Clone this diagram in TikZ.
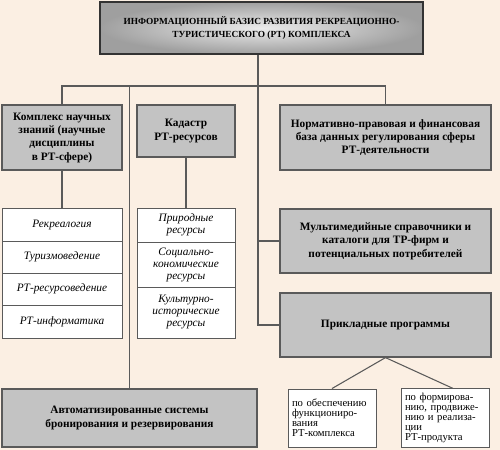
\documentclass[tikz,border=0pt]{standalone}
\usepackage{fontspec}
\setmainfont{Liberation Serif}
\definecolor{cream}{HTML}{FBEFE3}
\definecolor{boxgray}{HTML}{C3C3C3}
\definecolor{linegray}{HTML}{5A5A5A}

\begin{document}
\begin{tikzpicture}[x=0.75pt,y=-0.75pt,
    size/.style 2 args={minimum width=#1*0.75pt,minimum height=#2*0.75pt},
    graybox/.style={draw=linegray,fill=boxgray,line width=0.9pt,inner sep=1pt,align=center,
      font=\fontsize{8.5}{10}\selectfont\bfseries},
    listbox/.style={draw=linegray,fill=white,line width=0.7pt,inner sep=1pt,align=center,
      font=\fontsize{8.5}{9}\selectfont\itshape},
    smallbox/.style={draw=linegray,fill=white,line width=0.7pt,inner sep=3pt,align=left,
      font=\fontsize{8}{7.6}\selectfont},
    conn/.style={linegray,line width=0.8pt}]
    \fill[cream] (0,0) rectangle (500,450);
    \useasboundingbox (0,0) rectangle (500,450);
    % top box
    \node[size={323}{52},draw=black!80,line width=1.5pt,inner color=gray!15,outer color=gray!75,
      align=center,font=\fontsize{7}{10}\selectfont\bfseries] (basis) at (261.5,28)
      {ИНФОРМАЦИОННЫЙ БАЗИС РАЗВИТИЯ РЕКРЕАЦИОННО-\\ТУРИСТИЧЕСКОГО (РТ) КОМПЛЕКСА};
    % second row
    \node[graybox,size={120}{65}] (kompl) at (62,137.5)
      {Комплекс научных\\знаний (научные\\дисциплины\\в РТ-сфере)};
    \node[graybox,size={98}{52}] (kadastr) at (186,131) {Кадастр\\РТ-ресурсов};
    \node[graybox,size={211}{65}] (norm) at (385.5,137.5)
      {Нормативно-правовая и финансовая\\база данных регулирования сферы\\РТ-деятельности};
    \node[graybox,size={211}{64}] (multi) at (385.5,241)
      {Мультимедийные справочники и\\каталоги для ТР-фирм и\\потенциальных потребителей};
    \node[graybox,size={211}{64}] (prikl) at (385.5,325) {Прикладные программы};
    \node[graybox,size={255}{58}] (avto) at (129.5,418)
      {Автоматизированные системы\\бронирования и резервирования};
    % lists of disciplines and resources
    \node[listbox,size={120}{33}] (disc1) at (62,224.5) {Рекреалогия};
    \node[listbox,size={120}{32}] (disc2) at (62,257) {Туризмоведение};
    \node[listbox,size={120}{32}] (disc3) at (62,289) {РТ-ресурсоведение};
    \node[listbox,size={120}{33}] (disc4) at (62,321.5) {РТ-информатика};
    \node[listbox,size={98}{34}] (res1) at (186,225) {Природные\\ресурсы};
    \node[listbox,size={98}{45}] (res2) at (186,264.5) {Социально-\\кономические\\ресурсы};
    \node[listbox,size={98}{51}] (res3) at (186,312.5) {Культурно-\\исторические\\ресурсы};
    % application programs
    \node[smallbox,size={88}{58},text width=80*0.75pt] (prog1) at (332,418)
      {по обеспечению\\функциониро-\\вания\\РТ-комплекса};
    \node[smallbox,size={88}{58},text width=80*0.75pt] (prog2) at (445,418)
      {по формирова-\\нию, продвиже-\\нию и реализа-\\ции\\РТ-продукта};
    % connectors
    \coordinate (bus) at (258,86);
    \coordinate (stem) at (258,325);
    \draw[conn] (basis.south -| bus) -- (stem) -- (prikl.west);
    \draw[conn] (multi.west -| stem) -- (multi.west);
    \draw[conn] (kompl.north) -- (kompl.north |- bus) -- (norm.north |- bus) -- (norm.north);
    \draw[conn] (avto.north |- bus) -- (avto.north);
    \draw[conn] (kompl.south) -- (disc1.north);
    \draw[conn] (kadastr.south) -- (res1.north);
    \draw[conn] (prikl.south) -- (prog1.north);
    \draw[conn] (prikl.south) -- ([xshift=6]prog2.north);
  \end{tikzpicture}
\end{document}
